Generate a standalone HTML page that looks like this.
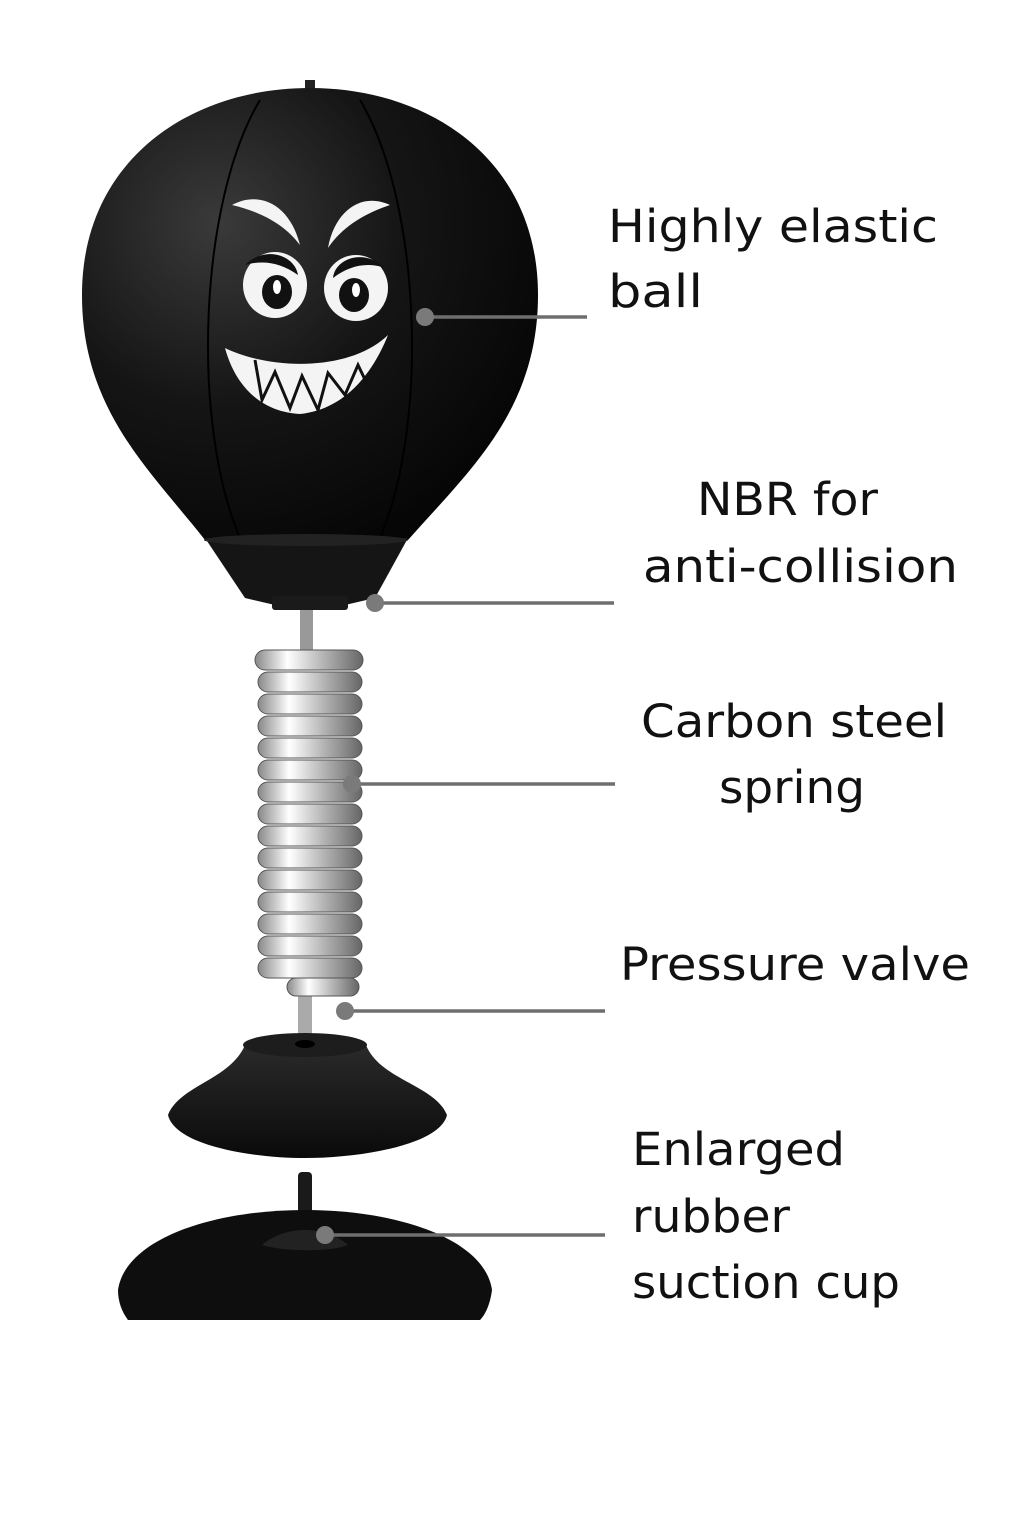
<!DOCTYPE html>
<html><head><meta charset="utf-8"><style>
html,body{margin:0;padding:0;background:#fff}
svg{display:block}
text{font-family:"DejaVu Sans","Liberation Sans",sans-serif;font-size:45px;fill:#111}
</style></head><body>
<svg width="1024" height="1536" viewBox="0 0 1024 1536" xmlns="http://www.w3.org/2000/svg">
<defs>
<radialGradient id="bg" cx="0.3" cy="0.3" r="0.8">
<stop offset="0" stop-color="#3a3a3a"/><stop offset="0.5" stop-color="#151515"/><stop offset="1" stop-color="#050505"/>
</radialGradient>
<linearGradient id="sp" x1="0" x2="1">
<stop offset="0" stop-color="#888"/><stop offset="0.3" stop-color="#fff"/><stop offset="0.6" stop-color="#bbb"/><stop offset="1" stop-color="#666"/>
</linearGradient>
<linearGradient id="cup" x1="0" x2="0" y1="0" y2="1">
<stop offset="0" stop-color="#2a2a2a"/><stop offset="1" stop-color="#0a0a0a"/>
</linearGradient>
</defs>
<rect x="305" y="80" width="10" height="12" fill="#222"/>
<path d="M310,88 C190,88 82,160 82,295 C82,410 150,470 205,540 L408,540 C470,470 538,410 538,295 C538,160 430,88 310,88 Z" fill="url(#bg)"/>
<path d="M260,100 C200,200 190,420 240,538 M360,100 C420,200 430,420 380,538" stroke="#000" stroke-width="2" fill="none"/>
<g fill="#f4f4f4">
<path d="M232,205 C260,190 290,205 300,245 C285,225 262,212 232,205 Z"/>
<path d="M390,205 C362,192 335,210 328,248 C340,230 360,215 390,205 Z"/>
<ellipse cx="275" cy="285" rx="32" ry="33"/>
<ellipse cx="356" cy="288" rx="32" ry="33"/>
<path d="M225,348 C270,370 350,372 388,335 C370,380 340,410 300,414 C260,412 235,385 225,348 Z"/>
</g>
<g fill="#111">
<path d="M245,265 C265,245 295,255 298,275 C280,262 262,260 245,265 Z"/>
<path d="M385,268 C365,248 335,258 333,278 C350,265 368,262 385,268 Z"/>
<ellipse cx="277" cy="292" rx="15" ry="17"/>
<ellipse cx="354" cy="295" rx="15" ry="17"/>
<path d="M255,360 L262,400 L275,372 L290,408 L302,376 L318,410 L328,373 L345,395 L358,365 L370,390" stroke="#111" stroke-width="3" fill="none"/>
</g>
<ellipse cx="277" cy="287" rx="4" ry="7" fill="#fff"/>
<ellipse cx="356" cy="290" rx="4" ry="7" fill="#fff"/>
<path d="M205,538 L408,538 L375,598 L345,605 L275,605 L245,598 Z" fill="#151515"/>
<ellipse cx="306" cy="540" rx="102" ry="6" fill="#222"/>
<rect x="272" y="596" width="76" height="14" rx="3" fill="#1a1a1a"/>
<rect x="300" y="610" width="13" height="40" fill="#999"/>
<rect x="298" y="995" width="14" height="52" fill="#aaa"/>
<g fill="url(#sp)" stroke="#555" stroke-width="1">
<rect x="255" y="650" width="108" height="20" rx="10"/>
<rect x="258" y="672" width="104" height="20" rx="10"/>
<rect x="258" y="694" width="104" height="20" rx="10"/>
<rect x="258" y="716" width="104" height="20" rx="10"/>
<rect x="258" y="738" width="104" height="20" rx="10"/>
<rect x="258" y="760" width="104" height="20" rx="10"/>
<rect x="258" y="782" width="104" height="20" rx="10"/>
<rect x="258" y="804" width="104" height="20" rx="10"/>
<rect x="258" y="826" width="104" height="20" rx="10"/>
<rect x="258" y="848" width="104" height="20" rx="10"/>
<rect x="258" y="870" width="104" height="20" rx="10"/>
<rect x="258" y="892" width="104" height="20" rx="10"/>
<rect x="258" y="914" width="104" height="20" rx="10"/>
<rect x="258" y="936" width="104" height="20" rx="10"/>
<rect x="258" y="958" width="104" height="20" rx="10"/>
<rect x="287" y="978" width="72" height="18" rx="9"/>
</g>
<path d="M245,1045 C230,1080 180,1085 168,1115 C175,1145 250,1158 305,1158 C360,1158 440,1145 447,1115 C435,1085 380,1080 366,1045 Z" fill="url(#cup)"/>
<ellipse cx="305" cy="1045" rx="62" ry="12" fill="#1d1d1d"/>
<ellipse cx="305" cy="1044" rx="10" ry="4" fill="#000"/>
<rect x="298" y="1172" width="14" height="55" rx="4" fill="#1a1a1a"/>
<path d="M118,1290 C125,1240 210,1210 305,1210 C400,1210 485,1240 492,1290 C490,1305 485,1315 480,1320 L128,1320 C122,1312 118,1302 118,1290 Z" fill="#0e0e0e"/>
<path d="M262,1245 C285,1225 325,1225 348,1245 C330,1252 285,1252 262,1245 Z" fill="#222"/>
<g stroke="#6e6e6e" stroke-width="3.5">
<line x1="425" y1="317" x2="587" y2="317"/>
<line x1="375" y1="603" x2="614" y2="603"/>
<line x1="352" y1="784" x2="615" y2="784"/>
<line x1="345" y1="1011" x2="605" y2="1011"/>
<line x1="325" y1="1235" x2="605" y2="1235"/>
</g>
<g fill="#7a7a7a">
<circle cx="425" cy="317" r="9"/><circle cx="375" cy="603" r="9"/><circle cx="352" cy="784" r="9"/><circle cx="345" cy="1011" r="9"/><circle cx="325" cy="1235" r="9"/>
</g>
<g>
<text x="608" y="242" textLength="330" lengthAdjust="spacingAndGlyphs">Highly elastic</text>
<text x="608" y="307" textLength="95" lengthAdjust="spacingAndGlyphs">ball</text>
<text x="697" y="515" textLength="181" lengthAdjust="spacingAndGlyphs">NBR for</text>
<text x="643" y="582" textLength="315" lengthAdjust="spacingAndGlyphs">anti-collision</text>
<text x="641" y="737" textLength="306" lengthAdjust="spacingAndGlyphs">Carbon steel</text>
<text x="719" y="803" textLength="146" lengthAdjust="spacingAndGlyphs">spring</text>
<text x="620" y="980" textLength="350" lengthAdjust="spacingAndGlyphs">Pressure valve</text>
<text x="632" y="1165" textLength="213" lengthAdjust="spacingAndGlyphs">Enlarged</text>
<text x="632" y="1232" textLength="158" lengthAdjust="spacingAndGlyphs">rubber</text>
<text x="632" y="1298" textLength="268" lengthAdjust="spacingAndGlyphs">suction cup</text>
</g>
</svg>
</body></html>
